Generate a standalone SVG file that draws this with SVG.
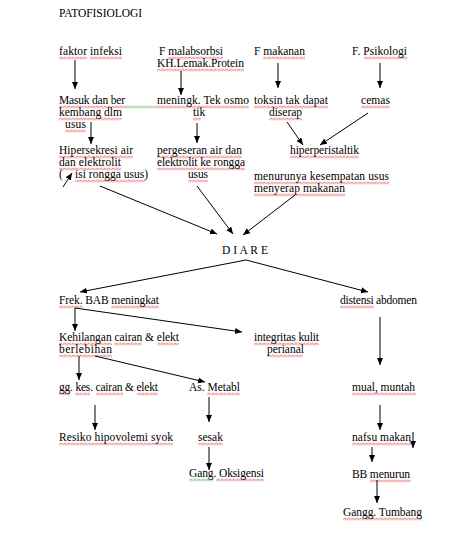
<svg xmlns="http://www.w3.org/2000/svg" width="474" height="537" viewBox="0 0 474 537">
<style>
.t{font-family:"Liberation Serif","Times New Roman",serif;font-size:11.5px;fill:#000}
.c line{stroke:#000;stroke-width:1;fill:none;marker-end:url(#ah)}
.sq{fill:url(#sqr)}
.sg{fill:url(#sqg)}
</style>
<defs>
<marker id="ah" markerUnits="userSpaceOnUse" markerWidth="8" markerHeight="8" refX="7" refY="3" orient="auto">
<path d="M0,0 L7,3 L0,6 z" fill="#000"/>
</marker>
<pattern id="sqr" patternUnits="userSpaceOnUse" width="4" height="3">
<path d="M0,2.5 L2,0.5 L4,2.5" stroke="#e02020" stroke-width="0.9" fill="none"/>
</pattern>
<pattern id="sqg" patternUnits="userSpaceOnUse" width="4" height="3">
<path d="M0,2.5 L2,0.5 L4,2.5" stroke="#20a020" stroke-width="0.9" fill="none"/>
</pattern>
</defs>
<rect width="474" height="537" fill="#fff"/>

<g id="spellcheck">
<rect class="sq" transform="translate(59,56.5)" width="28" height="3"/>
<rect class="sq" transform="translate(90,56.5)" width="32" height="3"/>
<rect class="sq" transform="translate(168,56.5)" width="55" height="3"/>
<rect class="sq" transform="translate(157,68.5)" width="87" height="3"/>
<rect class="sq" transform="translate(263,56.5)" width="42" height="3"/>
<rect class="sq" transform="translate(364,56.5)" width="43" height="3"/>
<rect class="sq" transform="translate(59,105.5)" width="66" height="3"/>
<rect class="sg" transform="translate(125,105.5)" width="32" height="3"/>
<rect class="sq" transform="translate(59,117.5)" width="63" height="3"/>
<rect class="sq" transform="translate(65,129.5)" width="21" height="3"/>
<rect class="sq" transform="translate(157,105.5)" width="92" height="3"/>
<rect class="sq" transform="translate(193,117.5)" width="8" height="3"/>
<rect class="sq" transform="translate(254,105.5)" width="74" height="3"/>
<rect class="sq" transform="translate(269,117.5)" width="33" height="3"/>
<rect class="sq" transform="translate(361,105.5)" width="29" height="3"/>
<rect class="sq" transform="translate(59,155.5)" width="74" height="3"/>
<rect class="sq" transform="translate(59,167.5)" width="62" height="3"/>
<rect class="sq" transform="translate(75,179.5)" width="70" height="3"/>
<rect class="sq" transform="translate(157,155.5)" width="85" height="3"/>
<rect class="sq" transform="translate(157,167.5)" width="88" height="3"/>
<rect class="sq" transform="translate(188,179.5)" width="20" height="3"/>
<rect class="sq" transform="translate(290,155.5)" width="69" height="3"/>
<rect class="sq" transform="translate(254,181.5)" width="135" height="3"/>
<rect class="sq" transform="translate(254,193.5)" width="91" height="3"/>
<rect class="sq" transform="translate(59,305.5)" width="20" height="3"/>
<rect class="sg" transform="translate(79,305.5)" width="4" height="3"/>
<rect class="sq" transform="translate(111,305.5)" width="48" height="3"/>
<rect class="sq" transform="translate(340,305.5)" width="34" height="3"/>
<rect class="sq" transform="translate(59,342.5)" width="53" height="3"/>
<rect class="sq" transform="translate(114,342.5)" width="28" height="3"/>
<rect class="sq" transform="translate(157,342.5)" width="22" height="3"/>
<rect class="sq" transform="translate(59,354.5)" width="53" height="3"/>
<rect class="sq" transform="translate(254,342.5)" width="65" height="3"/>
<rect class="sq" transform="translate(267,354.5)" width="36" height="3"/>
<rect class="sq" transform="translate(352,392.5)" width="64" height="3"/>
<rect class="sq" transform="translate(59,392.5)" width="11" height="3"/>
<rect class="sq" transform="translate(75,392.5)" width="15" height="3"/>
<rect class="sq" transform="translate(96,392.5)" width="27" height="3"/>
<rect class="sq" transform="translate(137,392.5)" width="21" height="3"/>
<rect class="sq" transform="translate(207,392.5)" width="33" height="3"/>
<rect class="sq" transform="translate(59,442.5)" width="114" height="3"/>
<rect class="sq" transform="translate(198,442.5)" width="25" height="3"/>
<rect class="sg" transform="translate(189,478.5)" width="24" height="3"/>
<rect class="sq" transform="translate(216,478.5)" width="48" height="3"/>
<rect class="sq" transform="translate(352,442.5)" width="59" height="3"/>
<rect class="sq" transform="translate(370,479.5)" width="41" height="3"/>
<rect class="sq" transform="translate(343,517.5)" width="79" height="3"/>
</g>

<g id="title"><text class="t" x="59" y="17" textLength="83">PATOFISIOLOGI</text></g>
<g id="n-faktor-infeksi"><text class="t" x="59" y="55" textLength="63">faktor infeksi</text></g>
<g id="n-malabsorbsi"><text class="t" x="159" y="55" textLength="64">F malabsorbsi</text><text class="t" x="157" y="67" textLength="87">KH.Lemak.Protein</text></g>
<g id="n-makanan"><text class="t" x="254" y="55" textLength="51">F makanan</text></g>
<g id="n-psikologi"><text class="t" x="352" y="55" textLength="55">F. Psikologi</text></g>
<g id="n-masuk"><text class="t" x="59" y="104" textLength="66">Masuk dan ber</text><text class="t" x="59" y="116" textLength="63">kembang dlm</text><text class="t" x="65" y="128" textLength="21">usus</text></g>
<g id="n-meningk"><text class="t" x="157" y="104" textLength="92">meningk. Tek osmo</text><text class="t" x="193" y="116">tik</text></g>
<g id="n-toksin"><text class="t" x="254" y="104" textLength="74">toksin tak dapat</text><text class="t" x="269" y="116" textLength="33">diserap</text></g>
<g id="n-cemas"><text class="t" x="361" y="104" textLength="29">cemas</text></g>
<g id="n-hipersekresi"><text class="t" x="59" y="154" textLength="74">Hipersekresi air</text><text class="t" x="59" y="166" textLength="62">dan elektrolit</text><text class="t" x="59" y="178">(</text><text class="t" x="75" y="178" textLength="73">isi rongga usus)</text></g>
<g id="n-pergeseran"><text class="t" x="157" y="154" textLength="85">pergeseran air dan</text><text class="t" x="157" y="166" textLength="88">elektrolit ke rongga</text><text class="t" x="188" y="178" textLength="20">usus</text></g>
<g id="n-hiperperistaltik"><text class="t" x="290" y="154" textLength="69">hiperperistaltik</text></g>
<g id="n-menurunya"><text class="t" x="254" y="180" textLength="135">menurunya kesempatan usus</text><text class="t" x="254" y="192" textLength="91">menyerap makanan</text></g>
<g id="n-diare"><text class="t" x="222" y="254" textLength="46">D I A R E</text></g>
<g id="n-frek"><text class="t" x="59" y="304" textLength="100">Frek. BAB meningkat</text></g>
<g id="n-distensi"><text class="t" x="340" y="304" textLength="77">distensi abdomen</text></g>
<g id="n-kehilangan"><text class="t" x="59" y="341" textLength="120">Kehilangan cairan &amp; elekt</text><text class="t" x="59" y="353" textLength="53">berlebihan</text></g>
<g id="n-integritas"><text class="t" x="254" y="341" textLength="65">integritas kulit</text><text class="t" x="267" y="353" textLength="37">perianal</text></g>
<g id="n-mual"><text class="t" x="352" y="391" textLength="63">mual, muntah</text></g>
<g id="n-gg-kes"><text class="t" x="59" y="391" textLength="99">gg. kes. cairan &amp; elekt</text></g>
<g id="n-asmetabl"><text class="t" x="189" y="391" textLength="51">As. Metabl</text></g>
<g id="n-resiko"><text class="t" x="59" y="441" textLength="114">Resiko hipovolemi syok</text></g>
<g id="n-sesak"><text class="t" x="198" y="441">sesak</text></g>
<g id="n-oksigensi"><text class="t" x="189" y="477" textLength="75">Gang. Oksigensi</text></g>
<g id="n-nafsu"><text class="t" x="352" y="441" textLength="59">nafsu makan</text></g>
<g id="n-bb"><text class="t" x="352" y="478" textLength="58">BB menurun</text></g>
<g id="n-tumbang"><text class="t" x="343" y="516" textLength="79">Gangg. Tumbang</text></g>

<g id="connectors" class="c">
<line x1="75" y1="60" x2="75" y2="89"/>
<line x1="181" y1="71" x2="181" y2="95"/>
<line x1="278" y1="63" x2="278" y2="88"/>
<line x1="380" y1="63" x2="380" y2="88"/>
<line x1="91" y1="122" x2="91" y2="144"/>
<line x1="197" y1="123" x2="197" y2="143"/>
<line x1="287" y1="122" x2="303" y2="145"/>
<line x1="368" y1="113" x2="320" y2="145"/>
<line x1="63" y1="187" x2="72" y2="173"/>
<line x1="100" y1="186" x2="217" y2="234"/>
<line x1="197" y1="186" x2="233" y2="234"/>
<line x1="295" y1="195" x2="243" y2="235"/>
<line x1="246" y1="260" x2="80" y2="292"/>
<line x1="246" y1="260" x2="368" y2="292"/>
<line x1="75" y1="308" x2="75" y2="331"/>
<line x1="75" y1="308" x2="242" y2="332"/>
<line x1="380" y1="317" x2="380" y2="365"/>
<line x1="79" y1="356" x2="79" y2="380"/>
<line x1="95" y1="356" x2="205" y2="382"/>
<line x1="95" y1="405" x2="95" y2="430"/>
<line x1="209" y1="397" x2="209" y2="422"/>
<line x1="209" y1="447" x2="209" y2="470"/>
<line x1="380" y1="405" x2="380" y2="430"/>
<line x1="413" y1="432" x2="413" y2="448"/>
<line x1="372" y1="447" x2="372" y2="462"/>
<line x1="377" y1="480" x2="377" y2="503"/>
</g>
</svg>
